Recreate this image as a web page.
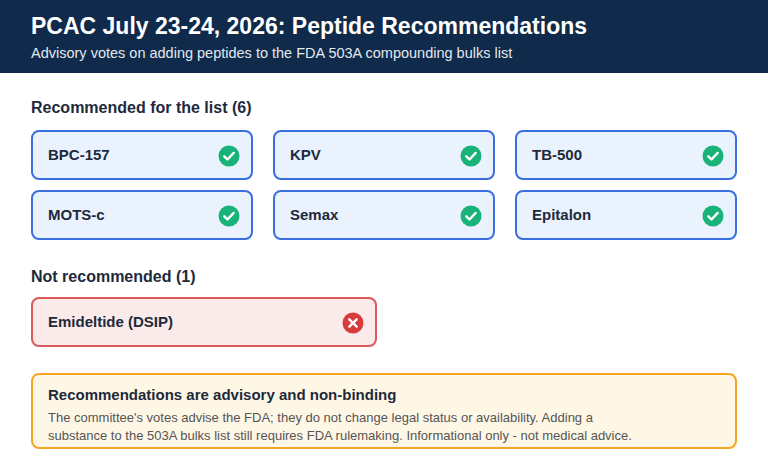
<!DOCTYPE html>
<html>
<head>
<meta charset="utf-8">
<script src="https://cdn.jsdelivr.net/npm/chart.js@4.4.0/dist/chart.umd.min.js"></script>
<style>
  body { margin:0; width:768px; height:476px; background:#fff; font-family:"Liberation Sans", Arial, sans-serif; overflow:hidden; position:relative; }
  .header { position:absolute; left:0; top:0; width:768px; height:73px; background:#0f2a4a; }
  .title { position:absolute; left:31px; top:13px; color:#fff; font-size:23px; font-weight:bold; }
  .sub { position:absolute; left:31px; top:45px; color:#e2e8f0; font-size:14.5px; }
  .label { position:absolute; left:31px; color:#1e293b; font-size:16px; font-weight:bold; }
  .card { position:absolute; box-sizing:border-box; height:50px; border-radius:8px; border:2px solid #3b6fe0; background:#eaf2fd; }
  .card .name { position:absolute; left:15px; top:14px; font-size:15px; font-weight:bold; color:#1e293b; }
  .card svg { position:absolute; right:11px; top:13px; }
  .card.no { border-color:#dc5a5a; background:#fbeaea; }
  .note { position:absolute; left:31px; top:373px; width:706px; height:76px; box-sizing:border-box; border:2px solid #f5a524; border-radius:8px; background:#fff7e6; }
  .note .h { position:absolute; left:15px; top:11px; font-size:15px; font-weight:bold; color:#1e293b; }
  .note .t { position:absolute; left:15px; top:34px; font-size:13px; color:#555; line-height:18px; width:660px; }
</style>
</head>
<body>
<div class="header"><div class="title"></div><div class="sub"></div></div>
<div id="root"></div>
<script>
const titleText = "PCAC July 23-24, 2026: Peptide Recommendations";
const subtitleText = "Advisory votes on adding peptides to the FDA 503A compounding bulks list";
const recommended = ["BPC-157", "KPV", "TB-500", "MOTS-c", "Semax", "Epitalon"];
const notRecommended = ["Emideltide (DSIP)"];
const noteTitle = "Recommendations are advisory and non-binding";
const noteLines = ["The committee's votes advise the FDA; they do not change legal status or availability. Adding a",
  "substance to the 503A bulks list still requires FDA rulemaking. Informational only - not medical advice."];

document.querySelector(".title").textContent = titleText;
document.querySelector(".sub").textContent = subtitleText;
const root = document.getElementById("root");

function addLabel(text, top) {
  const d = document.createElement("div");
  d.className = "label"; d.style.top = top + "px"; d.textContent = text;
  root.appendChild(d);
}
const check = '<svg width="22" height="22" viewBox="0 0 22 22"><circle cx="11" cy="11" r="10.5" fill="#19b37a"/><path d="M6.3 11.3l3.2 3.2 6.2-6.6" stroke="#fff" stroke-width="2.4" fill="none" stroke-linecap="round" stroke-linejoin="round"/></svg>';
const cross = '<svg width="22" height="22" viewBox="0 0 22 22"><circle cx="11" cy="11" r="10.5" fill="#d63c3c"/><path d="M7.3 7.3l7.4 7.4M14.7 7.3l-7.4 7.4" stroke="#fff" stroke-width="2.4" stroke-linecap="round"/></svg>';
function addCard(name, x, y, w, ok) {
  const d = document.createElement("div");
  d.className = "card" + (ok ? "" : " no");
  d.style.left = x + "px"; d.style.top = y + "px"; d.style.width = w + "px";
  d.innerHTML = '<div class="name"></div>' + (ok ? check : cross);
  d.querySelector(".name").textContent = name;
  root.appendChild(d);
}
addLabel("Recommended for the list (" + recommended.length + ")", 99);
recommended.forEach((n, i) => addCard(n, 31 + (i % 3) * 242, 130 + Math.floor(i / 3) * 60, 222, true));
addLabel("Not recommended (" + notRecommended.length + ")", 268);
notRecommended.forEach((n, i) => addCard(n, 31, 297, 346, false));

const note = document.createElement("div");
note.className = "note";
note.innerHTML = '<div class="h"></div><div class="t"></div>';
note.querySelector(".h").textContent = noteTitle;
note.querySelector(".t").innerHTML = noteLines.map(l => l.replace(/&/g,"&amp;")).join("<br>");
root.appendChild(note);
</script>
</body>
</html>
